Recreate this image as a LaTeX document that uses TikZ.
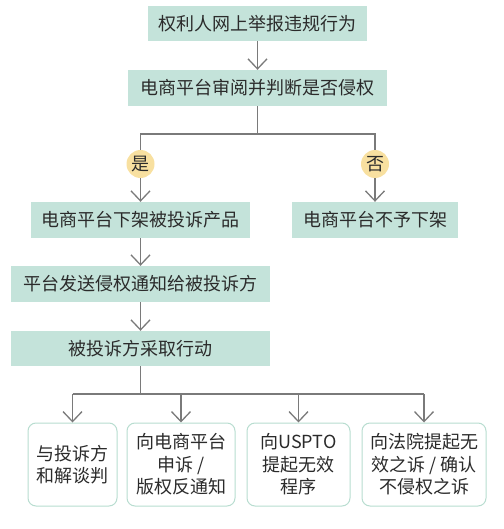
\documentclass[tikz,border=0pt]{standalone}
\usepackage{fontspec}
\newfontfamily\cjk{Noto Sans CJK SC}
\usetikzlibrary{arrows.meta}
\definecolor{boxfill}{HTML}{C4E3DA}
\definecolor{boxline}{HTML}{B8DDD0}
\definecolor{circfill}{HTML}{F8E0A0}
\definecolor{linegray}{HTML}{7A7A7A}
\definecolor{txt}{HTML}{2B2B2B}
\tikzset{
  mainbox/.style={fill=boxfill, draw=none, inner sep=0pt, minimum height=36pt,
    text=txt, font=\cjk\fontsize{18}{22}\selectfont},
  leafbox/.style={fill=white, draw=boxline, line width=1pt, rounded corners=8pt,
    inner sep=0pt, minimum height=83pt, text=txt, align=center,
    font=\cjk\fontsize{18}{22.5}\selectfont},
  yn/.style={circle, fill=circfill, draw=none, minimum size=28pt, inner sep=0pt,
    text=txt, font=\cjk\fontsize{18}{22}\selectfont},
  conn/.style={draw=linegray, line width=1.3pt},
  arr/.style={conn, -{Straight Barb[length=10pt,width=19pt,line width=1.3pt]}},
}
\begin{document}
\begin{tikzpicture}[x=1pt,y=-1pt]
\useasboundingbox (0,0) rectangle (503,529);
\node[mainbox, minimum width=219pt, minimum height=35pt] (b1) at (257.5,23.5) {权利人网上举报违规行为};
\node[mainbox, minimum width=259pt] (b2) at (257.5,88) {电商平台审阅并判断是否侵权};
\node[yn] (yes) at (140.5,164) {是};
\node[yn] (no) at (375,164) {否};
\node[mainbox, minimum width=219pt] (b3) at (140.5,220) {电商平台下架被投诉产品};
\node[mainbox, minimum width=166pt] (b3n) at (375,220) {电商平台不予下架};
\node[mainbox, minimum width=259pt] (b4) at (140.5,284) {平台发送侵权通知给被投诉方};
\node[mainbox, minimum width=259pt, minimum height=35pt] (b5) at (140.5,348.5) {被投诉方采取行动};
\node[leafbox, minimum width=89pt] (la) at (72.5,464.5) {与投诉方\\和解谈判};
\node[leafbox, minimum width=108pt] (lb) at (181,464.5) {向电商平台\\申诉 /\\版权反通知};
\node[leafbox, minimum width=103pt] (lc) at (298.5,464.5) {向USPTO\\提起无效\\程序};
\node[leafbox, minimum width=124pt] (ld) at (424,464.5) {向法院提起无\\效之诉 / 确认\\不侵权之诉};
\coordinate (s1) at (257.5,134);
\coordinate (s2) at (140.5,394);
% connectors
\draw[arr] (b1.south) -- (b2.north);
\draw[conn] (b2.south) -- (s1);
\draw[conn] (yes.north) -- (yes.north |- s1) -- (no.north |- s1) -- (no.north);
\draw[arr] (yes.south) -- (b3.north);
\draw[arr] (no.south) -- (b3n.north);
\draw[arr] (b3.south) -- (b4.north);
\draw[arr] (b4.south) -- (b5.north);
\draw[conn] (b5.south) -- (s2);
\draw[conn] (la.north |- s2) -- (ld.north |- s2);
\draw[arr] (la.north |- s2) -- (la.north);
\draw[arr] (lb.north |- s2) -- (lb.north);
\draw[arr] (lc.north |- s2) -- (lc.north);
\draw[arr] (ld.north |- s2) -- (ld.north);
\end{tikzpicture}
\end{document}
